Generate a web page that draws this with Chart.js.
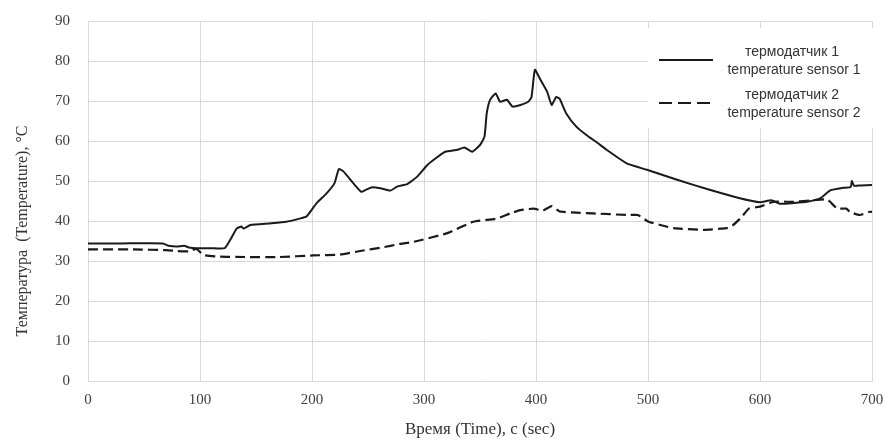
<!DOCTYPE html>
<html>
<head>
<meta charset="utf-8">
<script src="https://cdn.jsdelivr.net/npm/chart.js@4"></script>
<style>
  html, body { margin: 0; padding: 0; background: #fff; }
  #wrap { width: 888px; height: 444px; }
</style>
</head>
<body>
<div id="wrap"><canvas id="tempChart" width="888" height="444"></canvas></div>
<script>
// time, s and temperature, °C
var time1 = [0, 30, 67, 72, 79, 86, 90, 97, 110, 122, 127, 131, 133, 137, 139, 145, 162, 177, 189, 195,
  204, 213, 220, 224, 228, 237, 244, 248, 253, 261, 270, 276, 285, 294, 303, 312, 319, 330, 336, 343,
  350, 354, 356, 359, 364, 368, 374, 379, 386, 393, 396, 399, 404, 410, 414, 418, 421, 427, 436, 445,
  455, 463, 481, 499, 526, 555, 582, 600, 610, 618, 630, 642, 654, 663, 674, 681, 682, 684, 690, 700];
var sensor1 = [34.4, 34.4, 34.4, 33.8, 33.6, 33.8, 33.4, 33.2, 33.2, 33.2, 35.3, 37.3, 38.2, 38.6, 38.1, 39, 39.4, 39.8, 40.6, 41.1,
  44.4, 46.9, 49.4, 53, 52.4, 49.4, 47.3, 47.8, 48.4, 48.2, 47.6, 48.6, 49.2, 51.1, 54, 56, 57.3, 57.8, 58.4, 57.3,
  59, 61.1, 66.9, 70.3, 71.9, 69.8, 70.3, 68.6, 69, 69.8, 71, 77.8, 75.3, 72.3, 69, 71, 70.6, 66.9, 63.6, 61.5,
  59.5, 57.8, 54.4, 52.8, 50.3, 47.8, 45.7, 44.7, 45.2, 44.3, 44.5, 44.8, 45.7, 47.7, 48.3, 48.5, 50, 48.8, 48.9, 49];

var time2 = [0, 40, 70, 80, 90, 97, 103, 118, 140, 171, 201, 225, 243, 261, 279, 291, 320, 344, 365, 377,
  386, 398, 406, 414, 421, 436, 451, 481, 491, 500, 511, 523, 549, 570, 576, 584, 590, 600, 612, 630,
  648, 660, 664, 669, 677, 680, 689, 698, 700];
var sensor2 = [32.9, 32.9, 32.7, 32.5, 32.4, 33, 31.5, 31.1, 31, 31, 31.4, 31.6, 32.5, 33.3, 34.3, 34.8, 36.9, 39.8, 40.6, 41.9,
  42.7, 43.1, 42.6, 43.7, 42.4, 42.1, 41.9, 41.5, 41.5, 39.9, 39, 38.2, 37.8, 38.2, 39, 41.1, 43.1, 43.6, 44.8, 44.8,
  45.2, 45.4, 44.4, 43.1, 43.1, 42.3, 41.5, 42.3, 42.3];

var legendLines = [
  ['термодатчик 1', 'temperature sensor 1'],
  ['термодатчик 2', 'temperature sensor 2']
];
var yTitle = 'Температура  (Temperature), °C';
var xTitle = 'Время (Time), с (sec)';

function toPoints(xs, ys) {
  return xs.map(function (x, i) { return { x: x, y: ys[i] }; });
}

var serif = '"Liberation Serif", "Times New Roman", serif';
var sans = '"Liberation Sans", Arial, sans-serif';

// legend box and rotated y title drawn on top
var overlay = {
  id: 'overlay',
  afterDraw: function (chart) {
    var ctx = chart.ctx;
    ctx.save();
    ctx.fillStyle = '#fff';
    ctx.fillRect(648, 28, 240, 100);

    var rows = [{ y: 60, dash: [] }, { y: 103, dash: [13, 6] }];
    rows.forEach(function (r, i) {
      ctx.strokeStyle = '#1a1a1a';
      ctx.lineWidth = 2.2;
      ctx.setLineDash(r.dash);
      ctx.beginPath();
      ctx.moveTo(659, r.y);
      ctx.lineTo(713, r.y);
      ctx.stroke();
      ctx.setLineDash([]);
      ctx.fillStyle = '#333';
      ctx.font = '14px ' + sans;
      ctx.textAlign = 'center';
      ctx.textBaseline = 'middle';
      ctx.fillText(legendLines[i][0], 792, r.y - 8);
      ctx.fillText(legendLines[i][1], 794, r.y + 10);
    });

    ctx.translate(23, 231);
    ctx.rotate(-Math.PI / 2);
    ctx.fillStyle = '#333';
    ctx.font = '16px ' + serif;
    ctx.textAlign = 'center';
    ctx.textBaseline = 'middle';
    ctx.fillText(yTitle, 0, 0);
    ctx.restore();
  }
};

function noPad(scale) {
  scale.paddingTop = 0;
  scale.paddingBottom = 0;
  scale.paddingLeft = 0;
  scale.paddingRight = 0;
}

new Chart(document.getElementById('tempChart'), {
  type: 'line',
  data: {
    datasets: [
      {
        label: legendLines[0].join(' '),
        data: toPoints(time1, sensor1),
        borderColor: '#1a1a1a',
        borderWidth: 2,
        pointRadius: 0,
        tension: 0.15,
        fill: false
      },
      {
        label: legendLines[1].join(' '),
        data: toPoints(time2, sensor2),
        borderColor: '#1a1a1a',
        borderWidth: 2.2,
        borderDash: [10, 5],
        pointRadius: 0,
        tension: 0.15,
        fill: false
      }
    ]
  },
  options: {
    responsive: false,
    animation: false,
    layout: { padding: { top: 21, right: 16, left: 0, bottom: 0 } },
    plugins: {
      legend: { display: false },
      tooltip: { enabled: false }
    },
    scales: {
      x: {
        type: 'linear',
        min: 0,
        max: 700,
        afterFit: function (scale) { scale.height = 63; noPad(scale); },
        ticks: { stepSize: 100, color: '#404040', font: { family: serif, size: 15 }, padding: 10, maxRotation: 0 },
        grid: { color: '#d9d9d9', drawTicks: false },
        border: { color: '#d9d9d9' },
        title: { display: true, text: xTitle, color: '#333', font: { family: serif, size: 17 }, padding: { top: 10 } }
      },
      y: {
        min: 0,
        max: 90,
        afterFit: function (scale) { scale.width = 88; noPad(scale); },
        ticks: { stepSize: 10, color: '#404040', font: { family: serif, size: 15 }, padding: 18 },
        grid: { color: '#d9d9d9', drawTicks: false },
        border: { color: '#d9d9d9' }
      }
    }
  },
  plugins: [overlay]
});
</script>
</body>
</html>
